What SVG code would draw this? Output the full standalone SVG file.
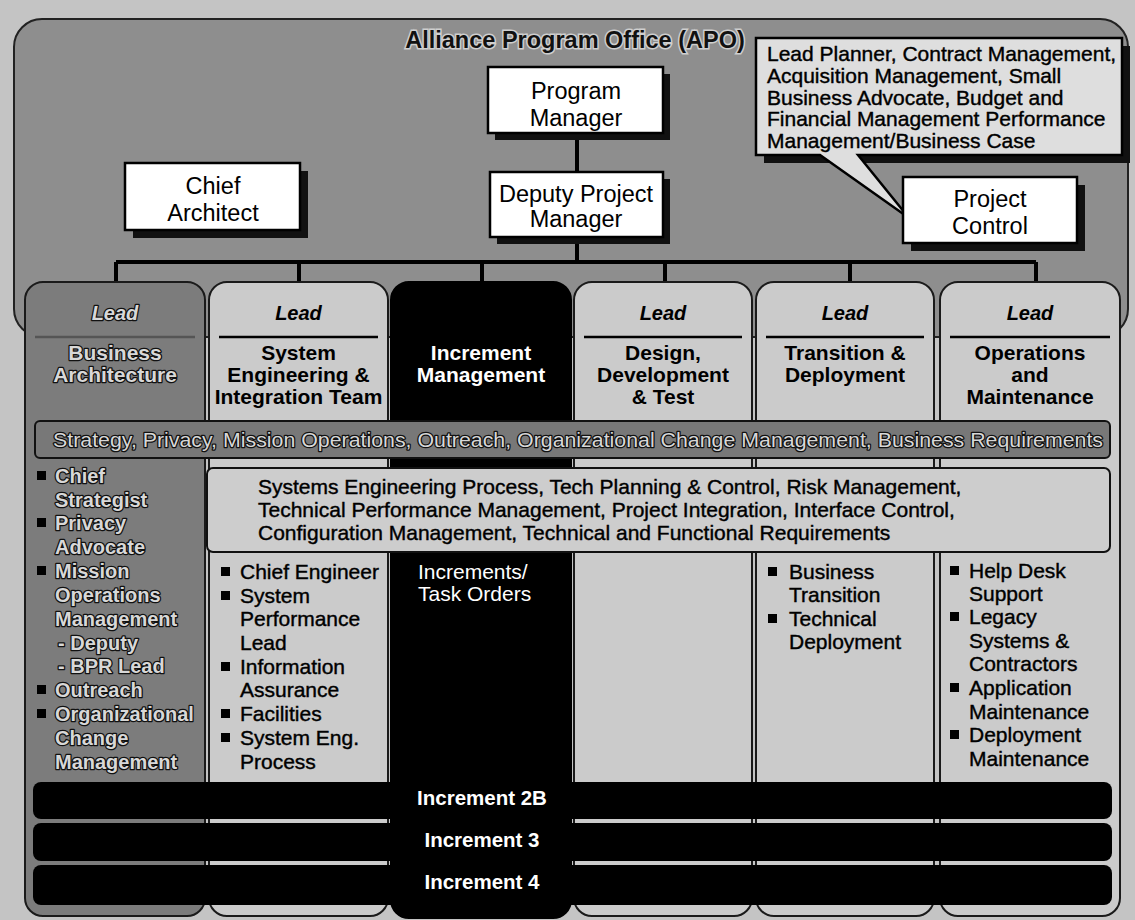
<svg xmlns="http://www.w3.org/2000/svg" width="1135" height="920" viewBox="0 0 1135 920">
<defs>
<style>
text{font-family:"Liberation Sans",Arial,Helvetica,sans-serif}
.box{fill:#fff;stroke:#000;stroke-width:2.5}
.shadow{fill:#111}
.bt{font-size:23.5px;text-anchor:middle;fill:#000}
.lead{font-size:20px;font-style:italic;font-weight:bold;text-anchor:middle;fill:#000}
.hdr{font-size:21px;font-weight:bold;text-anchor:middle;fill:#000}
.emb{fill:#d8d8d8;stroke:#111;stroke-width:2.5;paint-order:stroke;stroke-linejoin:round}
.li{font-size:21px;fill:#000;stroke:#000;stroke-width:0.4}
.wt{font-size:21px;fill:#fff}
.li1{font-size:20px;font-weight:bold}
.bul{fill:#000}
.sep{stroke:#000;stroke-width:2.5}
.conn{stroke:#000;stroke-width:4;fill:none}
.col{stroke:#1a1a1a;stroke-width:2}
.inc{fill:#000}
.inct{font-size:20.5px;font-weight:bold;fill:#fff;text-anchor:middle}
</style>
</defs>
<rect x="0" y="0" width="1135" height="920" fill="#c4c4c4"/>
<g id="apo">
<rect x="14" y="19" width="1114" height="318" rx="28" fill="#8e8e8e" stroke="#222" stroke-width="2"/>
<text x="575" y="48" font-size="23.5" font-weight="bold" text-anchor="middle" fill="#111" stroke="#cfcfcf" stroke-width="3" paint-order="stroke">Alliance Program Office (APO)</text>
</g>
<g id="connectors">
<line class="conn" x1="577" y1="133" x2="577" y2="172"/>
<line class="conn" x1="577" y1="237" x2="577" y2="262"/>
<line class="conn" x1="116" y1="262" x2="1036" y2="262"/>
<line class="conn" x1="116" y1="262" x2="116" y2="284"/>
<line class="conn" x1="299" y1="262" x2="299" y2="284"/>
<line class="conn" x1="482" y1="262" x2="482" y2="284"/>
<line class="conn" x1="665" y1="262" x2="665" y2="284"/>
<line class="conn" x1="850" y1="262" x2="850" y2="284"/>
<line class="conn" x1="1036" y1="262" x2="1036" y2="284"/>
</g>
<g id="program-manager">
<rect class="shadow" x="495" y="74" width="175" height="66"/>
<rect class="box" x="488" y="67" width="175" height="66"/>
<text class="bt" x="576" y="98.5">Program</text>
<text class="bt" x="576" y="125.5">Manager</text>
</g>
<g id="deputy-project-manager">
<rect class="shadow" x="497" y="179" width="173" height="65"/>
<rect class="box" x="490" y="172" width="173" height="65"/>
<text class="bt" x="576" y="201.5">Deputy Project</text>
<text class="bt" x="576" y="226.5">Manager</text>
</g>
<g id="chief-architect">
<rect class="shadow" x="133" y="171" width="175" height="67"/>
<rect class="box" x="125" y="163" width="175" height="67"/>
<text class="bt" x="213" y="193.5">Chief</text>
<text class="bt" x="213" y="220.5">Architect</text>
</g>
<g id="callout">
<rect class="shadow" x="764" y="46" width="366" height="117"/>
<path d="M756,38 H1122 V155 H858 L909,218 L820,155 H756 Z" fill="#dedede" stroke="#000" stroke-width="2.5" stroke-linejoin="miter"/>
<text class="li" x="767" y="60.5">Lead Planner, Contract Management,</text>
<text class="li" x="767" y="82.5">Acquisition Management, Small</text>
<text class="li" x="767" y="104.5">Business Advocate, Budget and</text>
<text class="li" x="767" y="125.5">Financial Management Performance</text>
<text class="li" x="767" y="147.5">Management/Business Case</text>
</g>
<g id="project-control">
<rect class="shadow" x="911" y="185" width="174" height="66"/>
<rect class="box" x="903" y="177" width="174" height="66"/>
<text class="bt" x="990" y="206.5">Project</text>
<text class="bt" x="990" y="233.5">Control</text>
</g>
<g id="col-business-architecture">
<rect class="col" x="25" y="282" width="180" height="634" rx="18" fill="#7c7c7c"/>
<text class="lead emb" x="115" y="320">Lead</text>
<line x1="35" y1="337" x2="195" y2="337" stroke="#555" stroke-width="2.5"/>
<text class="hdr emb" x="115" y="360">Business</text>
<text class="hdr emb" x="115" y="382">Architecture</text>
<g class="li1 emb">
<text x="55" y="483">Chief</text>
<text x="55" y="507">Strategist</text>
<text x="55" y="530">Privacy</text>
<text x="55" y="554">Advocate</text>
<text x="55" y="578">Mission</text>
<text x="55" y="602">Operations</text>
<text x="55" y="626">Management</text>
<text x="58" y="650">- Deputy</text>
<text x="58" y="673">- BPR Lead</text>
<text x="55" y="697">Outreach</text>
<text x="55" y="721">Organizational</text>
<text x="55" y="745">Change</text>
<text x="55" y="769">Management</text>
</g>
<rect class="bul" x="37" y="471" width="9" height="9"/>
<rect class="bul" x="37" y="518" width="9" height="9"/>
<rect class="bul" x="37" y="566" width="9" height="9"/>
<rect class="bul" x="37" y="685" width="9" height="9"/>
<rect class="bul" x="37" y="709" width="9" height="9"/>
</g>
<g id="col-system-engineering">
<rect class="col" x="209" y="282" width="179" height="634" rx="18" fill="#cbcbcb"/>
<text class="lead" x="298.5" y="320">Lead</text>
<line class="sep" x1="219" y1="337" x2="378" y2="337"/>
<text class="hdr" x="298.5" y="360">System</text>
<text class="hdr" x="298.5" y="382">Engineering &amp;</text>
<text class="hdr" x="298.5" y="404">Integration Team</text>
<text class="li" x="240" y="579">Chief Engineer</text>
<text class="li" x="240" y="603">System</text>
<text class="li" x="240" y="626">Performance</text>
<text class="li" x="240" y="650">Lead</text>
<text class="li" x="240" y="674">Information</text>
<text class="li" x="240" y="697">Assurance</text>
<text class="li" x="240" y="721">Facilities</text>
<text class="li" x="240" y="745">System Eng.</text>
<text class="li" x="240" y="769">Process</text>
<rect class="bul" x="221" y="567" width="9" height="9"/>
<rect class="bul" x="221" y="591" width="9" height="9"/>
<rect class="bul" x="221" y="662" width="9" height="9"/>
<rect class="bul" x="221" y="709" width="9" height="9"/>
<rect class="bul" x="221" y="733" width="9" height="9"/>
</g>
<g id="col-increment-management">
<rect x="391" y="282" width="180" height="636" rx="18" fill="#000" stroke="#000" stroke-width="2"/>
<text class="hdr" x="481" y="360" style="fill:#fff">Increment</text>
<text class="hdr" x="481" y="382" style="fill:#fff">Management</text>
<text class="wt" x="418" y="579">Increments/</text>
<text class="wt" x="418" y="601">Task Orders</text>
</g>
<g id="col-design">
<rect class="col" x="574" y="282" width="178" height="634" rx="18" fill="#cbcbcb"/>
<text class="lead" x="663" y="320">Lead</text>
<line class="sep" x1="584" y1="337" x2="742" y2="337"/>
<text class="hdr" x="663" y="360">Design,</text>
<text class="hdr" x="663" y="382">Development</text>
<text class="hdr" x="663" y="404">&amp; Test</text>
</g>
<g id="col-transition">
<rect class="col" x="756" y="282" width="178" height="634" rx="18" fill="#cbcbcb"/>
<text class="lead" x="845" y="320">Lead</text>
<line class="sep" x1="766" y1="337" x2="924" y2="337"/>
<text class="hdr" x="845" y="360">Transition &amp;</text>
<text class="hdr" x="845" y="382">Deployment</text>
<text class="li" x="789" y="579">Business</text>
<text class="li" x="789" y="602">Transition</text>
<text class="li" x="789" y="626">Technical</text>
<text class="li" x="789" y="649">Deployment</text>
<rect class="bul" x="768" y="567" width="9" height="9"/>
<rect class="bul" x="768" y="614" width="9" height="9"/>
</g>
<g id="col-operations">
<rect class="col" x="940" y="282" width="180" height="634" rx="18" fill="#cbcbcb"/>
<text class="lead" x="1030" y="320">Lead</text>
<line class="sep" x1="950" y1="337" x2="1110" y2="337"/>
<text class="hdr" x="1030" y="360">Operations</text>
<text class="hdr" x="1030" y="382">and</text>
<text class="hdr" x="1030" y="404">Maintenance</text>
<text class="li" x="969" y="578">Help Desk</text>
<text class="li" x="969" y="601">Support</text>
<text class="li" x="969" y="624">Legacy</text>
<text class="li" x="969" y="648">Systems &amp;</text>
<text class="li" x="969" y="671">Contractors</text>
<text class="li" x="969" y="695">Application</text>
<text class="li" x="969" y="719">Maintenance</text>
<text class="li" x="969" y="742">Deployment</text>
<text class="li" x="969" y="766">Maintenance</text>
<rect class="bul" x="950" y="566" width="9" height="9"/>
<rect class="bul" x="950" y="612" width="9" height="9"/>
<rect class="bul" x="950" y="683" width="9" height="9"/>
<rect class="bul" x="950" y="730" width="9" height="9"/>
</g>
<g id="band-strategy">
<rect x="35" y="421" width="1075" height="37" rx="5" fill="#787878" stroke="#111" stroke-width="2"/>
<text x="53" y="447" font-size="21" textLength="1050" lengthAdjust="spacingAndGlyphs" class="emb">Strategy, Privacy, Mission Operations, Outreach, Organizational Change Management, Business Requirements</text>
</g>
<g id="band-systems-engineering">
<rect x="207" y="468" width="903" height="84" rx="6" fill="#cdcdcd" stroke="#111" stroke-width="2"/>
<text class="li" x="258" y="494">Systems Engineering Process, Tech Planning &amp; Control, Risk Management,</text>
<text class="li" x="258" y="517">Technical Performance Management, Project Integration, Interface Control,</text>
<text class="li" x="258" y="540">Configuration Management, Technical and Functional Requirements</text>
</g>
<g id="increment-2b">
<rect class="inc" x="33" y="782" width="1079" height="37" rx="8"/>
<text class="inct" x="482" y="805">Increment 2B</text>
</g>
<g id="increment-3">
<rect class="inc" x="33" y="823" width="1079" height="38" rx="8"/>
<text class="inct" x="482" y="847">Increment 3</text>
</g>
<g id="increment-4">
<rect class="inc" x="33" y="865" width="1079" height="40" rx="8"/>
<text class="inct" x="482" y="889">Increment 4</text>
</g>
</svg>
